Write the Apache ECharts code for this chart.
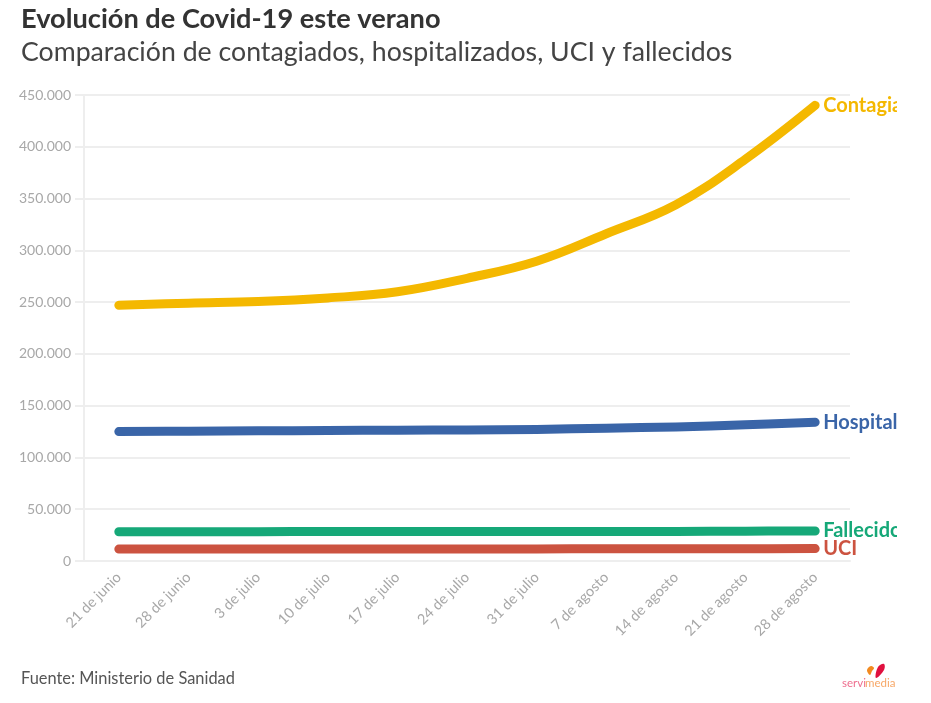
<!DOCTYPE html>
<html>
<head>
<meta charset="utf-8">
<style>
  html, body { margin: 0; padding: 0; background: #fff; }
  #chart { width: 897px; height: 703px; }
</style>
<script src="https://cdn.jsdelivr.net/npm/echarts@6/dist/echarts.min.js"></script>
</head>
<body>
<div id="chart"></div>
<script>
const fechas = ['21 de junio', '28 de junio', '3 de julio', '10 de julio', '17 de julio', '24 de julio',
    '31 de julio', '7 de agosto', '14 de agosto', '21 de agosto', '28 de agosto'];
const contagiados = [247000, 249000, 250500, 254000, 260000, 273000, 289500, 316000, 344000, 388000, 440000];
const hospitalizados = [125000, 125300, 125700, 126000, 126300, 126500, 127000, 128300, 129500, 131500, 134000];
const fallecidos = [28300, 28300, 28350, 28400, 28400, 28400, 28450, 28500, 28600, 28800, 29000];
const uci = [11500, 11500, 11550, 11600, 11600, 11650, 11700, 11750, 11800, 11900, 12000];

const FONT = 'Lato';
const GREY = '#a8a8a8';
const GRID = '#eeeeee';

function linea(name, data, color) {
    return {
        name: name,
        type: 'line',
        data: data,
        smooth: 0.4,
        showSymbol: false,
        silent: true,
        clip: false,
        lineStyle: { color: color, width: 9, cap: 'round', join: 'round' },
        endLabel: {
            show: true,
            formatter: name,
            color: color,
            fontFamily: FONT,
            fontWeight: 'bold',
            fontSize: 20,
            distance: 8,
        },
    };
}

const chart = echarts.init(document.getElementById('chart'));
chart.setOption({
    animation: false,
    backgroundColor: '#fff',
    grid: { left: 84, right: 47, top: 95, bottom: 142 },
    xAxis: {
        type: 'category',
        data: fechas,
        boundaryGap: true,
        axisLine: { lineStyle: { color: GRID, width: 2 } },
        axisTick: { alignWithLabel: true, length: 10, lineStyle: { color: GRID, width: 2 } },
        axisLabel: { rotate: 45, color: GREY, fontFamily: FONT, fontSize: 14.5, margin: 14, lineHeight: 26, interval: 0 },
        splitLine: { show: false },
    },
    yAxis: {
        type: 'value',
        min: 0,
        max: 450000,
        interval: 50000,
        axisLine: { show: true, lineStyle: { color: GRID, width: 2 } },
        axisTick: { show: true, length: 9, lineStyle: { color: GRID, width: 2 } },
        axisLabel: {
            color: GREY,
            fontFamily: FONT,
            fontSize: 14,
            margin: 13,
            formatter: v => String(v).replace(/\B(?=(\d{3})+$)/g, '.'),
        },
        splitLine: { lineStyle: { color: GRID, width: 2 } },
    },
    series: [
        linea('Contagiados', contagiados, '#f4b800'),
        linea('Hospitalizados', hospitalizados, '#3a65a8'),
        linea('Fallecidos', fallecidos, '#16a878'),
        linea('UCI', uci, '#cc5340'),
    ],
    graphic: [
        { type: 'text', left: 21, top: 6, style: { text: 'Evolución de Covid-19 este verano', font: 'bold 27.2px ' + FONT, fill: '#333' } },
        { type: 'text', left: 21, top: 39, style: { text: 'Comparación de contagiados, hospitalizados, UCI y fallecidos', font: '26.7px ' + FONT, fill: '#444' } },
        { type: 'text', left: 21, top: 671, style: { text: 'Fuente: Ministerio de Sanidad', font: '16.4px ' + FONT, fill: '#555' } },
        { type: 'text', left: 842, top: 677, style: { text: 'servi', font: '11.5px ' + FONT, fill: '#ee6f8f' } },
        { type: 'text', left: 865, top: 677, style: { text: 'media', font: '11.5px ' + FONT, fill: '#f7a868' } },
        { type: 'polygon', shape: { points: [[871, 666], [867, 670], [870, 675], [872, 671], [874, 668]], smooth: 0.4 }, style: { fill: '#f28a20' } },
        { type: 'polygon', shape: { points: [[876, 678], [878, 667], [884, 664], [884, 670]], smooth: 0.4 }, style: { fill: '#e0103f' } },
    ],
});
</script>
</body>
</html>
